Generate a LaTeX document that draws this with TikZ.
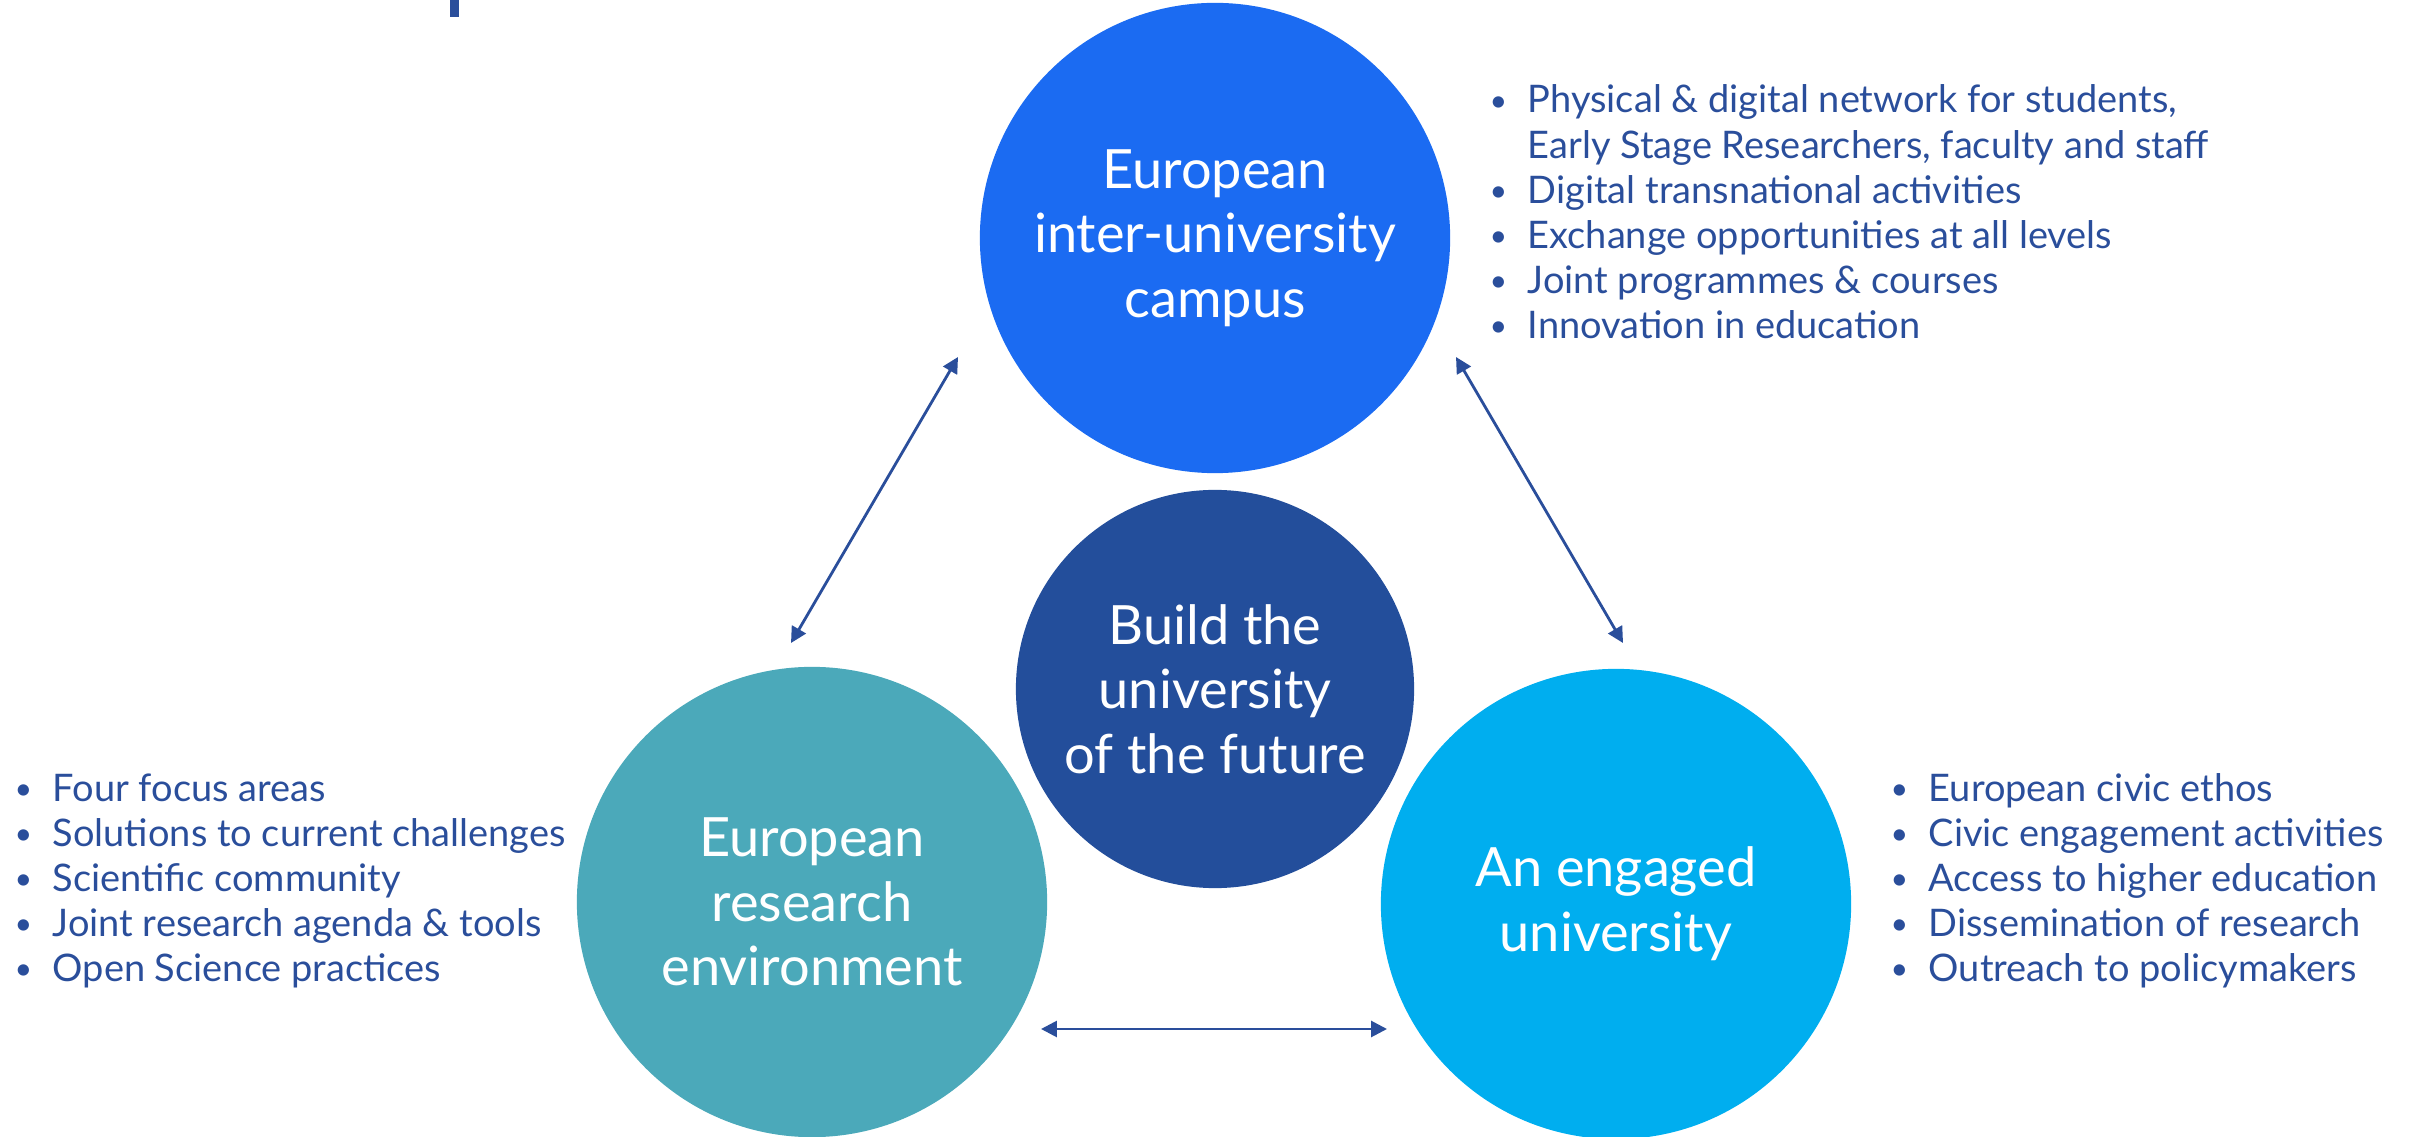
\documentclass[tikz,border=0pt]{standalone}
\usepackage{fontspec}
\setmainfont{Lato}
\usetikzlibrary{arrows.meta}
\definecolor{campusblue}{HTML}{1B6BF2}
\definecolor{futureblue}{HTML}{234E9B}
\definecolor{researchteal}{HTML}{4BA9BA}
\definecolor{engagedcyan}{HTML}{00AEEF}
\definecolor{listblue}{HTML}{2A4E9B}
\newcommand{\bul}{\makebox[10.8pt][l]{\raisebox{0.5pt}{\scalebox{0.8}{\textbullet}}}}
\newcommand{\nobul}{\hspace*{10.8pt}}

\begin{document}
\begin{tikzpicture}[x=0.01cm,y=-0.01cm,
  pillar/.style={circle,inner sep=0pt,minimum size=4.7cm,text=white,align=center,
    font=\fontsize{15.4}{18.4}\selectfont},
  itemlist/.style={anchor=base west,inner sep=0pt,text=listblue,
    font=\fontsize{10.8}{12.8}\selectfont},
  link/.style={{Triangle[length=4.5pt,width=4.5pt]}-{Triangle[length=4.5pt,width=4.5pt]},
    line width=0.8pt,draw=listblue}]

\useasboundingbox (0,0) rectangle (2412,1137);
\fill[listblue] (450,0) rectangle (459,17);

\node[pillar,fill=campusblue] (campus) at (1215,238) {European\\inter-university\\campus};
\node[pillar,fill=futureblue,minimum size=3.98cm] (future) at (1215,689) {Build the\\university\\of the future};
\node[pillar,fill=researchteal] (research) at (812,902) {European\\research\\environment};
\node[pillar,fill=engagedcyan] (engaged) at (1616,904) {An engaged\\university};

\coordinate (cr1) at (958,357);
\coordinate (cr2) at (791,643);
\coordinate (ce1) at (1456,357);
\coordinate (ce2) at (1623,643);
\coordinate (re1) at (1041,1029);
\coordinate (re2) at (1387,1029);
\draw[link] (cr1) -- (cr2);
\draw[link] (ce1) -- (ce2);
\draw[link] (re1) -- (re2);

\node[itemlist] (campuslist) at (1489,113) {\begin{tabular}[t]{@{}l@{}}
\bul Physical \& digital network for students,\\
\nobul Early Stage Researchers, faculty and staff\\
\bul Digital transnational activities\\
\bul Exchange opportunities at all levels\\
\bul Joint programmes \& courses\\
\bul Innovation in education
\end{tabular}};

\node[itemlist] (researchlist) at (14,801) {\begin{tabular}[t]{@{}l@{}}
\bul Four focus areas\\
\bul Solutions to current challenges\\
\bul Scientific community\\
\bul Joint research agenda \& tools\\
\bul Open Science practices
\end{tabular}};

\node[itemlist] (engagedlist) at (1890,801) {\begin{tabular}[t]{@{}l@{}}
\bul European civic ethos\\
\bul Civic engagement activities\\
\bul Access to higher education\\
\bul Dissemination of research\\
\bul Outreach to policymakers
\end{tabular}};

\end{tikzpicture}
\end{document}
